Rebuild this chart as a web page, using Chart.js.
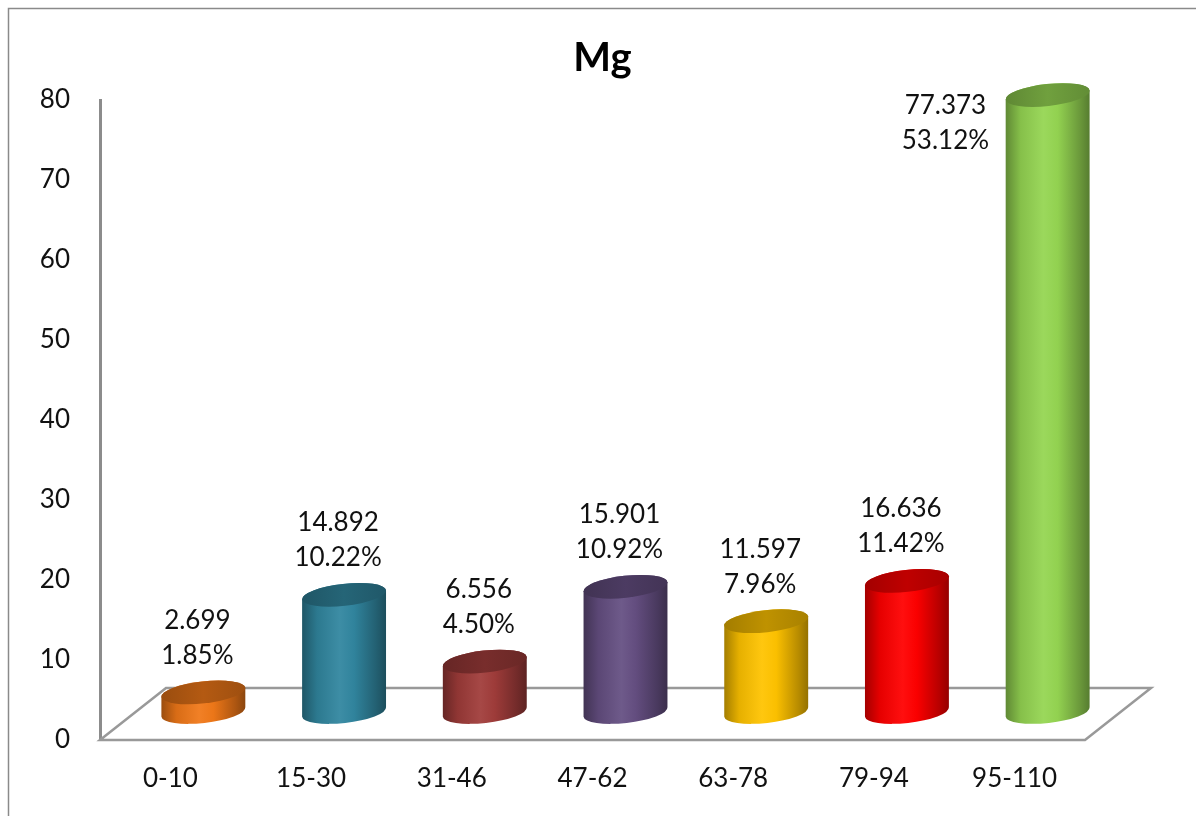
<!DOCTYPE html>
<html>
<head>
<meta charset="utf-8">
<title>Mg</title>
<script src="https://cdn.jsdelivr.net/npm/chart.js@4/dist/chart.umd.min.js"></script>
<style>
  html, body { margin: 0; padding: 0; background: #ffffff; }
  #wrap { width: 1196px; height: 816px; }
</style>
</head>
<body>
<div id="wrap"><canvas id="chart" width="1196" height="816"></canvas></div>
<script>
// Depth ranges (cm) and Mg content per range
const categories = ['0-10', '15-30', '31-46', '47-62', '63-78', '79-94', '95-110'];
const mgValues = [2.699, 14.892, 6.556, 15.901, 11.597, 16.636, 77.373];
const shareLabels = ['1.85%', '10.22%', '4.50%', '10.92%', '7.96%', '11.42%', '53.12%'];
const barColors = ['#F07818', '#31869F', '#A03C3A', '#654F82', '#FFC300', '#FF0000', '#95D552'];
const yTicks = [0, 10, 20, 30, 40, 50, 60, 70, 80];
const chartTitle = 'Mg';

const FONT = 'Lato, "Open Sans", "DejaVu Sans", sans-serif';

function shade(hex, amt) {
  const n = parseInt(hex.slice(1), 16);
  let r = (n >> 16) & 255, g = (n >> 8) & 255, b = n & 255;
  const f = c => {
    const v = amt < 0 ? c * (1 + amt) : c + (255 - c) * amt;
    return Math.max(0, Math.min(255, Math.round(v)));
  };
  return 'rgb(' + f(r) + ',' + f(g) + ',' + f(b) + ')';
}

// Depth of the 3D floor (back edge offset relative to the front edge)
const DEPTH_X = 66, DEPTH_Y = -52;

const framePlugin = {
  id: 'frame',
  beforeDraw(chart) {
    const ctx = chart.ctx;
    ctx.save();
    ctx.fillStyle = '#ffffff';
    ctx.fillRect(0, 0, chart.width, chart.height);
    ctx.strokeStyle = '#8a8a8a';
    ctx.lineWidth = 1.5;
    ctx.strokeRect(8.5, 8.5, chart.width + 40, chart.height + 40);
    // chart title above the plot
    const a = chart.chartArea;
    ctx.font = 'bold 40px ' + FONT;
    ctx.fillStyle = '#000000';
    ctx.textAlign = 'center';
    ctx.textBaseline = 'middle';
    ctx.fillText(chartTitle, (a.left + a.right) / 2 + 10, 58);
    ctx.restore();
  }
};

const floorPlugin = {
  id: 'floor3d',
  beforeDatasetsDraw(chart) {
    const ctx = chart.ctx;
    const a = chart.chartArea;
    ctx.save();
    ctx.strokeStyle = '#999999';
    ctx.lineWidth = 2.5;
    ctx.lineJoin = 'miter';
    ctx.beginPath();
    ctx.moveTo(a.left, a.bottom);
    ctx.lineTo(a.left + DEPTH_X, a.bottom + DEPTH_Y);
    ctx.lineTo(a.right + DEPTH_X, a.bottom + DEPTH_Y);
    ctx.lineTo(a.right, a.bottom);
    ctx.closePath();
    ctx.stroke();
    ctx.restore();
  }
};

const cylinderPlugin = {
  id: 'cylinders',
  afterDatasetsDraw(chart) {
    const ctx = chart.ctx;
    const a = chart.chartArea;
    const meta = chart.getDatasetMeta(0);
    const ox = DEPTH_X / 2, oy = DEPTH_Y / 2;
    const rot = -0.11;
    meta.data.forEach((bar, i) => {
      const color = barColors[i];
      const cx = bar.x + ox;
      const rx = bar.width / 2;
      const ry = 11;
      const topY = bar.y + oy;
      const baseY = bar.base + oy - 2;

      const grad = ctx.createLinearGradient(cx - rx, 0, cx + rx, 0);
      grad.addColorStop(0, shade(color, -0.36));
      grad.addColorStop(0.18, shade(color, -0.1));
      grad.addColorStop(0.45, shade(color, 0.06));
      grad.addColorStop(0.62, shade(color, -0.02));
      grad.addColorStop(0.88, shade(color, -0.28));
      grad.addColorStop(1, shade(color, -0.42));

      ctx.save();
      // body: front half of the base ellipse up to the top ellipse
      ctx.beginPath();
      ctx.ellipse(cx, baseY, rx, ry, rot, 0, Math.PI, false);
      ctx.ellipse(cx, topY, rx, ry, rot, Math.PI, 2 * Math.PI, false);
      ctx.closePath();
      ctx.fillStyle = grad;
      ctx.fill();

      // top cap
      const capGrad = ctx.createLinearGradient(cx - rx, 0, cx + rx, 0);
      capGrad.addColorStop(0, shade(color, -0.36));
      capGrad.addColorStop(0.5, shade(color, -0.25));
      capGrad.addColorStop(1, shade(color, -0.34));
      ctx.beginPath();
      ctx.ellipse(cx, topY, rx, ry, rot, 0, 2 * Math.PI);
      ctx.fillStyle = capGrad;
      ctx.fill();
      ctx.restore();

      // value and share labels
      ctx.save();
      ctx.font = '26px ' + FONT;
      ctx.fillStyle = '#111111';
      ctx.textAlign = 'center';
      ctx.textBaseline = 'middle';
      let lx = cx - 6, l2 = topY - 37, l1 = l2 - 35;
      if (l1 - 14 < a.top) {
        lx = cx - rx - 60;
        l1 = topY + 11;
        l2 = l1 + 35;
      }
      ctx.fillText(mgValues[i].toFixed(3), lx, l1);
      ctx.fillText(shareLabels[i], lx, l2);
      ctx.restore();
    });
  }
};

new Chart(document.getElementById('chart'), {
  type: 'bar',
  data: {
    labels: categories,
    datasets: [{
      label: chartTitle,
      data: mgValues,
      backgroundColor: 'rgba(0,0,0,0)',
      borderWidth: 0,
      barPercentage: 0.6,
      categoryPercentage: 1.0
    }]
  },
  options: {
    responsive: false,
    devicePixelRatio: 1,
    animation: false,
    layout: { padding: { left: 0, right: 111, top: 100, bottom: 0 } },
    plugins: {
      legend: { display: false },
      tooltip: { enabled: false },
      title: { display: false }
    },
    scales: {
      x: {
        type: 'category',
        offset: true,
        grid: { display: false, drawTicks: false },
        border: { display: false },
        ticks: { color: '#111111', font: { family: FONT, size: 26 }, padding: 23, maxRotation: 0 },
        afterFit(scale) { scale.height = 76; }
      },
      y: {
        min: 0,
        max: 80,
        afterBuildTicks(scale) { scale.ticks = yTicks.map(v => ({ value: v })); },
        grid: { display: false, drawTicks: false },
        border: { display: true, color: '#8c8c8c', width: 3 },
        ticks: { color: '#111111', font: { family: FONT, size: 26 }, padding: 30 },
        afterFit(scale) { scale.width = 100; }
      }
    }
  },
  plugins: [framePlugin, floorPlugin, cylinderPlugin]
});
</script>
</body>
</html>
